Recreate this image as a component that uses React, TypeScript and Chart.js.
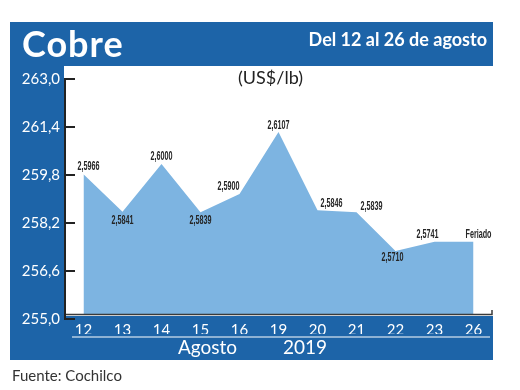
import React, { useEffect, useRef } from 'react';
import { Chart, registerables } from 'chart.js';

Chart.register(...registerables);

// ---- data ----
const DAYS = ['12', '13', '14', '15', '16', '19', '20', '21', '22', '23', '26'];
const PRICES = [259.66, 258.41, 260.0, 258.39, 259.0, 261.07, 258.46, 258.39, 257.1, 257.41, 257.41];
const POINT_NOTES = ['', '', '', '', '', '', '', '', '', '', 'Feriado'];
const Y_TICKS = [255.0, 256.6, 258.2, 259.8, 261.4, 263.0];

// label placement relative to each point (style, not data)
const LABEL_OFFSETS: [number, number][] = [
  [5, -8], [0, 9], [0, -7], [0, 8], [-11, -7], [0, -6], [14, -7], [15, -6], [-3, 7], [-7, -7], [5, -7],
];

const BLUE = '#1d64a8';
const AREA = '#7db4e1';
const TICK_SHIFT = 5;

const fmtTick = (v: number) => v.toFixed(1).replace('.', ',');
const fmtPrice = (v: number) => (v / 100).toFixed(4).replace('.', ',');

const decor = {
  id: 'decor',
  beforeDraw(chart: any) {
    const { ctx, chartArea: a } = chart;
    ctx.save();
    ctx.fillStyle = BLUE;
    ctx.fillRect(10, 22, a.right - 10, 338);
    ctx.fillStyle = '#ffffff';
    ctx.fillRect(a.left, a.top - 8, a.right - a.left, a.bottom - a.top + 10);
    ctx.restore();
  },
  afterDatasetsDraw(chart: any) {
    const { ctx, chartArea: a, scales } = chart;
    const y = scales.y;
    ctx.save();
    // blue band under plot
    ctx.fillStyle = BLUE;
    ctx.fillRect(a.left, a.bottom + 2, a.right - a.left, 44);
    // x axis line
    ctx.strokeStyle = '#3a3a3a';
    ctx.lineWidth = 1.5;
    ctx.beginPath();
    ctx.moveTo(a.left, a.bottom + 0.5);
    ctx.lineTo(a.right - 1, a.bottom + 0.5);
    ctx.lineTo(a.right - 1, a.bottom - 4);
    ctx.stroke();
    // y axis line + inward ticks
    ctx.strokeStyle = '#222';
    ctx.lineWidth = 2;
    const yTop = y.getPixelForValue(Y_TICKS[Y_TICKS.length - 1]) + TICK_SHIFT;
    const yBot = y.getPixelForValue(Y_TICKS[0]) + TICK_SHIFT;
    ctx.beginPath();
    ctx.moveTo(a.left + 1, yTop);
    ctx.lineTo(a.left + 1, yBot + 1);
    ctx.stroke();
    Y_TICKS.forEach((v) => {
      const py = y.getPixelForValue(v) + TICK_SHIFT;
      ctx.beginPath();
      ctx.moveTo(a.left, py);
      ctx.lineTo(a.left + 11, py);
      ctx.stroke();
    });
    // white underline of x labels
    ctx.strokeStyle = '#ffffff';
    ctx.lineWidth = 1.2;
    ctx.beginPath();
    ctx.moveTo(a.left + 8, a.bottom + 23);
    ctx.lineTo(a.right - 3, a.bottom + 23);
    ctx.stroke();
    // data labels (condensed look)
    const meta = chart.getDatasetMeta(0);
    ctx.fillStyle = '#262626';
    ctx.font = 'bold 12px "Liberation Sans", Arial, sans-serif';
    ctx.textAlign = 'center';
    ctx.textBaseline = 'middle';
    meta.data.forEach((pt: any, i: number) => {
      const [dx, dy] = LABEL_OFFSETS[i];
      const txt = POINT_NOTES[i] || fmtPrice(PRICES[i]);
      ctx.save();
      ctx.translate(pt.x + dx, pt.y + dy);
      ctx.scale(0.6, 1);
      ctx.fillText(txt, 0, 0);
      ctx.restore();
    });
    ctx.restore();
  },
};

export default function App() {
  const ref = useRef<HTMLCanvasElement>(null);

  useEffect(() => {
    if (!ref.current) return;
    const chart = new Chart(ref.current, {
      type: 'line',
      data: {
        labels: DAYS,
        datasets: [
          {
            data: PRICES,
            fill: 'start',
            backgroundColor: AREA,
            borderColor: AREA,
            borderWidth: 0,
            pointRadius: 0,
            tension: 0,
          },
        ],
      },
      options: {
        responsive: false,
        animation: false,
        devicePixelRatio: 1,
        layout: { padding: { left: 0, right: 27, top: 74, bottom: 56 } },
        plugins: { legend: { display: false }, tooltip: { enabled: false } },
        scales: {
          x: {
            offset: true,
            grid: { display: false, drawTicks: false },
            border: { display: false },
            ticks: {
              z: 2,
              color: '#ffffff',
              padding: 7,
              maxRotation: 0,
              autoSkip: false,
              font: { family: 'Lato', size: 15 },
            },
            afterFit: (s: any) => {
              s.height = 20;
            },
          },
          y: {
            min: 255,
            max: 263,
            grid: { display: false, drawTicks: false },
            border: { display: false },
            afterBuildTicks: (s: any) => {
              s.ticks = Y_TICKS.map((v) => ({ value: v }));
            },
            ticks: {
              color: '#ffffff',
              padding: 4,
              labelOffset: TICK_SHIFT,
              font: { family: 'Lato', size: 15 },
              callback: (v: any) => fmtTick(Number(v)),
            },
            afterFit: (s: any) => {
              s.width = 64;
            },
          },
        },
      },
      plugins: [decor],
    });
    return () => chart.destroy();
  }, []);

  const txt = (style: React.CSSProperties): React.CSSProperties => ({
    position: 'absolute',
    fontFamily: 'Lato, sans-serif',
    whiteSpace: 'nowrap',
    ...style,
  });

  return (
    <div style={{ position: 'absolute', left: 0, top: 0, width: 520, height: 390, background: '#fff' }}>
      <canvas ref={ref} width={520} height={390} style={{ display: 'block', width: 520, height: 390 }} />
      <div style={txt({ left: 22, top: 25, fontSize: 36, lineHeight: '36px', fontWeight: 700, letterSpacing: 1, color: '#fff' })}>Cobre</div>
      <div style={txt({ right: 33, top: 30, fontSize: 18, lineHeight: '18px', fontWeight: 700, color: '#fff' })}>
        Del 12 al 26 de agosto
      </div>
      <div style={txt({ left: 238, top: 68, fontSize: 18, lineHeight: '18px', color: '#222' })}>(US$/lb)</div>
      <div style={txt({ left: 178, top: 337, fontSize: 19, lineHeight: '19px', color: '#fff' })}>Agosto</div>
      <div style={txt({ left: 283, top: 337, fontSize: 19, lineHeight: '19px', color: '#fff' })}>2019</div>
      <div style={txt({ left: 12, top: 368, fontSize: 15, lineHeight: '15px', color: '#333' })}>Fuente: Cochilco</div>
    </div>
  );
}
